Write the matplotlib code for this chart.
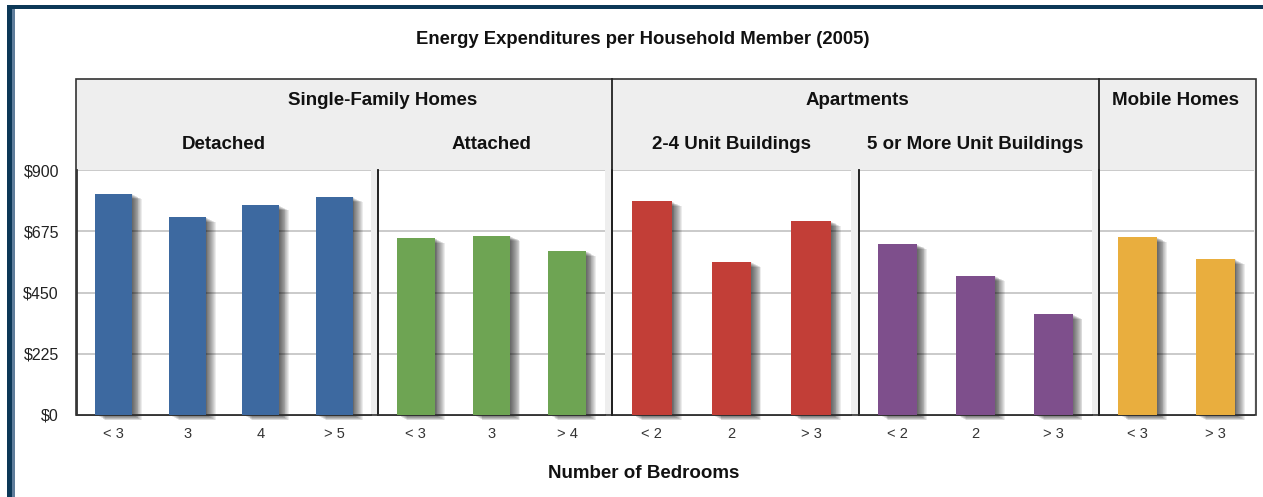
import matplotlib
matplotlib.use("Agg")
import matplotlib.pyplot as plt
from matplotlib.patches import Rectangle
from matplotlib.lines import Line2D
import matplotlib.transforms as mtransforms

plt.rcParams['font.family'] = ['Liberation Sans', 'DejaVu Sans']

# ---- data ----
title = "Energy Expenditures per Household Member (2005)"
xlabel = "Number of Bedrooms"
groups = ["Single-Family Homes", "Apartments", "Mobile Homes"]
subgroups = ["Detached", "Attached", "2-4 Unit Buildings", "5 or More Unit Buildings", ""]
detached_labels = ["< 3", "3", "4", "> 5"]
detached_values = [812, 727, 770, 801]
attached_labels = ["< 3", "3", "> 4"]
attached_values = [650, 658, 602]
units24_labels = ["< 2", "2", "> 3"]
units24_values = [785, 562, 712]
units5_labels = ["< 2", "2", "> 3"]
units5_values = [627, 511, 371]
mobile_labels = ["< 3", "> 3"]
mobile_values = [653, 573]
yticks = [0, 225, 450, 675, 900]
ytick_labels = ["$0", "$225", "$450", "$675", "$900"]
colors = ["#3d69a0", "#6ea453", "#c23e37", "#7e4f8c", "#e9ae3e"]

W, H = 1263, 497
fig = plt.figure(figsize=(W / 100, H / 100), dpi=100)

def fx(x):
    return x / W

def fy(y):
    return 1 - y / H

# outer dark frame
fig.add_artist(Rectangle((fx(7), fy(497)), fx(5), fy(5) - fy(497), transform=fig.transFigure,
                         facecolor="#0c3857", edgecolor="none", zorder=5))
fig.add_artist(Rectangle((fx(12), fy(497)), fx(3), fy(9) - fy(497), transform=fig.transFigure,
                         facecolor="#5f7d9b", edgecolor="none", zorder=5))
fig.add_artist(Rectangle((fx(7), fy(9)), fx(W - 7), fy(5) - fy(9), transform=fig.transFigure,
                         facecolor="#0c3857", edgecolor="none", zorder=5))

# chart box background
box_l, box_r, box_t, box_b = 76, 1256, 79, 415
grid_t = 170
fig.add_artist(Rectangle((fx(box_l), fy(box_b)), fx(box_r) - fx(box_l), fy(box_t) - fy(box_b),
                         transform=fig.transFigure, facecolor="#eeeeee", edgecolor="#333333",
                         linewidth=1.2, zorder=0))

panels = [
    (77, 371, detached_labels, detached_values, colors[0], subgroups[0]),
    (378, 605, attached_labels, attached_values, colors[1], subgroups[1]),
    (612, 851, units24_labels, units24_values, colors[2], subgroups[2]),
    (859, 1092, units5_labels, units5_values, colors[3], subgroups[3]),
    (1099, 1254, mobile_labels, mobile_values, colors[4], subgroups[4]),
]

for i, (x0, x1, labels, values, col, sub) in enumerate(panels):
    ax = fig.add_axes([fx(x0), fy(box_b), fx(x1) - fx(x0), fy(grid_t) - fy(box_b)])
    ax.set_facecolor("white")
    n = len(labels)
    xs = list(range(n))
    # soft drop shadows
    for k in range(1, 12):
        off = mtransforms.offset_copy(ax.transData, fig=fig, x=k * 0.9 * 72 / 100,
                                      y=-k * 0.45 * 72 / 100, units='points')
        ax.bar(xs, values, width=0.5, color="black", alpha=0.075, transform=off,
               zorder=2, clip_on=False)
    ax.bar(xs, values, width=0.5, color=col, zorder=3)
    ax.set_xlim(-0.5, n - 0.5)
    ax.set_ylim(0, 900)
    ax.set_yticks(yticks)
    ax.yaxis.grid(True, color="#c6c6c6", linewidth=1.3, zorder=1)
    ax.set_axisbelow(True)
    ax.set_xticks(xs)
    ax.set_xticklabels(labels, fontsize=10.5, color="#333333")
    ax.tick_params(axis='x', length=0, pad=9)
    ax.tick_params(axis='y', length=0)
    if i == 0:
        ax.set_yticklabels(ytick_labels, fontsize=11.5, color="#222222")
        ax.tick_params(axis='y', pad=13)
        ax.spines['left'].set_color("#333333")
    else:
        ax.set_yticklabels([])
        ax.spines['left'].set_color("#111111")
    ax.spines['left'].set_linewidth(1.3)
    ax.spines['bottom'].set_color("#333333")
    ax.spines['bottom'].set_linewidth(1.3)
    ax.spines['top'].set_visible(False)
    ax.spines['right'].set_visible(False)
    if sub:
        fig.text(fx((x0 + x1) / 2), fy(144.5), sub, ha="center", va="center",
                 fontsize=13.5, fontweight="bold", color="#111111")

# group dividers through header
for xd in (612, 1099):
    fig.add_artist(Line2D([fx(xd), fx(xd)], [fy(box_t), fy(box_b)], transform=fig.transFigure,
                          color="#222222", linewidth=1.3, zorder=6))

# group headers
for gx, g in zip((383, 857, 1176), groups):
    fig.text(fx(gx), fy(100.5), g, ha="center", va="center", fontsize=13.5,
             fontweight="bold", color="#111111")

fig.text(fx(643), fy(39), title, ha="center", va="center", fontsize=13.3,
         fontweight="bold", color="#111111")
fig.text(fx(644), fy(473), xlabel, ha="center", va="center", fontsize=13.5,
         fontweight="bold", color="#111111")

fig.savefig("out.png", dpi=100, facecolor="white")
